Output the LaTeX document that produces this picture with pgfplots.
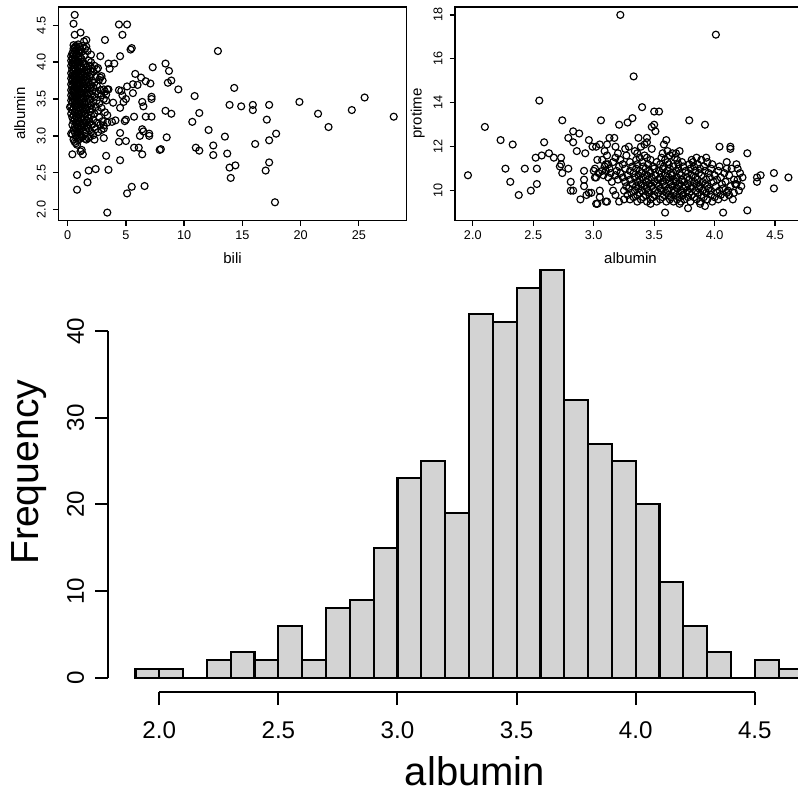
\documentclass[border=0pt]{standalone}
\usepackage{pgfplots}
\pgfplotsset{compat=1.18}
\usepackage{fontspec}
\setmainfont{Liberation Sans}
\definecolor{histgray}{RGB}{211,211,211}

\pgfplotsset{
  rpanel/.style={
    scale only axis, anchor=south west,
    width=209pt, height=128.1pt,
    tick align=outside, xtick pos=lower, ytick pos=left,
    major tick length=3.3pt,
    axis line style={line width=0.8pt},
    tick style={line width=0.8pt, black},
    tick label style={font=\fontsize{7.6}{9}\selectfont},
    xticklabel style={anchor=base},
    yticklabel style={rotate=90, anchor=base},
    xticklabel shift=8pt,
    yticklabel shift=4.3pt,
    /pgf/number format/assume math mode=true,
  },
  rpts/.style={only marks, mark=o, mark size=2.1pt, mark options={line width=0.7pt}, black},
}

\begin{document}
\begin{tikzpicture}
\useasboundingbox (0,0) rectangle (478.8pt,476.4pt);

% top left: bili vs albumin
\begin{axis}[rpanel, at={(34.98pt,344.1pt)},
  xmin=-0.808, xmax=29.108, ymin=1.853, ymax=4.747,
  xtick={0,5,10,15,20,25},
  ytick={2,2.5,3,3.5,4,4.5}, yticklabels={2.0,2.5,3.0,3.5,4.0,4.5}]
\addplot[rpts] coordinates {
(0.3,3.40)(0.3,3.55)(0.3,3.62)(0.3,3.70)(0.3,3.78)(0.3,3.85)(0.3,3.95)(0.3,4.02)(0.3,4.08)(0.3,3.48)(0.3,3.30)
(0.4,3.02)(0.4,3.15)(0.4,3.35)(0.4,3.45)(0.4,3.52)(0.4,3.60)(0.4,3.68)(0.4,3.75)(0.4,3.82)(0.4,3.90)(0.4,3.98)(0.4,4.05)(0.4,4.12)(0.4,3.25)
(0.5,2.95)(0.5,3.08)(0.5,3.20)(0.5,3.28)(0.5,3.38)(0.5,3.50)(0.5,3.58)(0.5,3.64)(0.5,3.72)(0.5,3.80)(0.5,3.87)(0.5,3.93)(0.5,4.00)(0.5,4.10)(0.5,4.18)(0.5,4.23)
(0.6,2.92)(0.6,3.05)(0.6,3.12)(0.6,3.22)(0.6,3.32)(0.6,3.42)(0.6,3.48)(0.6,3.55)(0.6,3.61)(0.6,3.67)(0.6,3.74)(0.6,3.79)(0.6,3.84)(0.6,3.91)(0.6,3.97)(0.6,4.04)(0.6,4.14)(0.6,4.20)
(0.7,2.90)(0.7,3.00)(0.7,3.10)(0.7,3.18)(0.7,3.26)(0.7,3.36)(0.7,3.44)(0.7,3.53)(0.7,3.59)(0.7,3.65)(0.7,3.70)(0.7,3.77)(0.7,3.83)(0.7,3.89)(0.7,3.96)(0.7,4.03)(0.7,4.09)(0.7,4.16)(0.7,4.22)
(0.8,2.88)(0.8,2.98)(0.8,3.07)(0.8,3.16)(0.8,3.24)(0.8,3.33)(0.8,3.41)(0.8,3.50)(0.8,3.57)(0.8,3.63)(0.8,3.69)(0.8,3.76)(0.8,3.86)(0.8,3.94)(0.8,4.01)(0.8,4.11)(0.8,4.19)
(0.9,2.94)(0.9,3.04)(0.9,3.13)(0.9,3.21)(0.9,3.30)(0.9,3.39)(0.9,3.47)(0.9,3.54)(0.9,3.62)(0.9,3.71)(0.9,3.80)(0.9,3.88)(0.9,3.99)(0.9,4.07)(0.9,4.15)(0.9,4.24)
(1.0,2.96)(1.0,3.09)(1.0,3.19)(1.0,3.29)(1.0,3.37)(1.0,3.46)(1.0,3.56)(1.0,3.66)(1.0,3.73)(1.0,3.81)(1.0,3.92)(1.0,4.00)(1.0,4.12)(1.0,4.21)
(1.1,3.02)(1.1,3.14)(1.1,3.25)(1.1,3.35)(1.1,3.43)(1.1,3.52)(1.1,3.60)(1.1,3.68)(1.1,3.78)(1.1,3.85)(1.1,3.95)(1.1,4.06)(1.1,4.17)
(1.2,2.99)(1.2,3.11)(1.2,3.23)(1.2,3.31)(1.2,3.40)(1.2,3.49)(1.2,3.58)(1.2,3.64)(1.2,3.75)(1.2,3.84)(1.2,3.93)(1.2,4.04)(1.2,4.14)
(1.3,3.06)(1.3,3.17)(1.3,3.27)(1.3,3.38)(1.3,3.51)(1.3,3.62)(1.3,3.71)(1.3,3.82)(1.3,3.90)(1.3,4.01)(1.3,4.22)
(1.4,3.12)(1.4,3.22)(1.4,3.34)(1.4,3.45)(1.4,3.57)(1.4,3.67)(1.4,3.79)(1.4,3.87)(1.4,3.98)(1.4,4.09)(1.4,4.28)
(1.5,2.96)(1.5,3.03)(1.5,3.18)(1.5,3.29)(1.5,3.42)(1.5,3.53)(1.5,3.63)(1.5,3.74)(1.5,3.85)(1.5,3.96)(1.5,4.18)
(1.6,3.08)(1.6,3.21)(1.6,3.36)(1.6,3.47)(1.6,3.59)(1.6,3.70)(1.6,3.81)(1.6,3.93)(1.6,4.21)
(1.7,3.14)(1.7,3.26)(1.7,3.39)(1.7,3.55)(1.7,3.66)(1.7,3.77)(1.7,3.90)(1.7,4.15)
(1.8,2.97)(1.8,3.10)(1.8,3.24)(1.8,3.44)(1.8,3.58)(1.8,3.72)(1.8,3.86)(1.8,4.02)
(1.9,3.19)(1.9,3.33)(1.9,3.50)(1.9,3.64)(1.9,3.80)(1.9,3.95)
(2.0,3.05)(2.0,3.28)(2.0,3.41)(2.0,3.56)(2.0,3.69)(2.0,3.83)(2.0,4.00)
(2.1,3.15)(2.1,3.36)(2.1,3.61)(2.1,3.75)(2.1,3.91)
(2.2,3.01)(2.2,3.22)(2.2,3.46)(2.2,3.66)(2.2,3.87)
(2.3,3.12)(2.3,3.30)(2.3,3.53)(2.3,3.72)(2.3,3.95)
(2.4,3.09)(2.4,3.39)(2.4,3.60)(2.4,3.80)
(2.5,3.18)(2.5,3.48)(2.5,3.68)(2.5,3.90)
(2.6,3.05)(2.6,3.34)(2.6,3.57)
(2.7,3.25)(2.7,3.44)(2.7,3.76)
(2.8,3.15)(2.8,3.62)(2.8,3.79)
(2.9,3.38)(2.9,3.55)
(3.0,3.20)(3.0,3.75)
(3.1,3.10)(3.1,3.50)
(3.2,3.32)(3.2,3.60)
(12.9,4.15)(28.0,3.26)(24.4,3.35)(25.5,3.52)(22.4,3.12)(21.5,3.30)(19.9,3.46)
(17.9,3.03)(17.8,2.10)(17.3,3.42)(17.3,2.94)(17.3,2.64)(17.1,3.22)(17.0,2.53)
(16.1,2.89)(15.9,3.42)(15.9,3.35)(14.9,3.40)(14.3,3.65)(14.4,2.60)(13.9,3.42)
(13.9,2.57)(14.0,2.43)(13.7,2.76)(13.5,2.99)(12.5,2.87)(12.5,2.74)(12.1,3.08)
(11.3,3.31)(11.3,2.80)(11.0,2.84)(10.9,3.54)(10.7,3.19)(9.5,3.63)(8.9,3.30)
(8.9,3.75)(8.7,3.88)(8.6,3.72)(8.4,3.98)(8.4,3.34)(8.5,2.98)(8.0,2.82)(7.9,2.81)
(7.3,3.93)(7.2,3.50)(7.2,3.53)(7.2,3.26)(7.0,3.03)(7.0,3.00)(7.1,3.71)(6.7,3.74)
(6.7,3.26)(6.5,3.40)(6.4,3.46)(6.3,3.79)(6.4,3.09)(6.5,3.06)(6.4,2.75)(6.2,3.00)
(6.6,2.32)(6.1,2.84)(6.0,3.69)(5.8,3.84)(5.6,3.70)(5.6,3.58)(5.7,2.84)(5.7,3.26)
(5.4,4.17)(5.5,4.19)(5.5,2.31)(5.1,2.22)(5.0,2.93)(5.0,3.22)(4.9,3.20)(5.1,3.67)
(5.0,3.50)(4.8,3.46)(4.7,3.55)(4.6,3.61)(4.4,3.62)(4.7,4.37)(5.1,4.51)(4.4,4.51)
(4.5,4.08)(4.4,2.92)(4.5,3.04)(4.5,2.67)(4.5,3.38)(4.0,3.98)(3.9,3.45)(4.1,3.21)
(3.8,3.19)(3.6,3.91)(3.5,3.98)(3.5,2.54)(3.4,1.96)(3.3,2.73)(3.2,4.30)(3.1,2.97)
(2.4,2.55)(1.8,2.53)(1.7,2.37)(0.8,2.47)(0.8,2.27)(0.4,2.75)(0.6,4.64)(0.5,4.52)
(0.6,4.37)(1.1,4.40)(1.6,4.30)(2.0,4.10)(2.8,4.08)(2.6,3.92)(2.9,3.81)(3.3,3.56)
(3.1,3.63)(3.4,3.63)(3.5,3.63)(3.3,3.48)(3.4,3.28)(3.4,3.18)(3.1,3.14)(2.9,3.08)
(2.3,2.95)(1.9,2.99)(1.6,2.95)(1.2,2.98)(1.2,2.81)(1.3,2.75)(1.1,2.79)(0.3,3.03)(0.2,3.39)
};
\end{axis}

% top right: albumin vs protime
\begin{axis}[rpanel, at={(273pt,344.1pt)}, width=210pt,
  xmin=1.853, xmax=4.747, ymin=8.64, ymax=18.36,
  xtick={2,2.5,3,3.5,4,4.5}, xticklabels={2.0,2.5,3.0,3.5,4.0,4.5},
  ytick={10,12,14,16,18}]
\addplot[rpts] coordinates {
(3.36,9.5)(3.44,9.5)(3.52,9.5)(3.60,9.5)(3.66,9.5)(3.72,9.5)(3.80,9.5)(3.88,9.5)(3.98,9.5)
(3.30,9.6)(3.39,9.6)(3.47,9.6)(3.55,9.6)(3.63,9.6)(3.69,9.6)(3.75,9.6)(3.85,9.6)(3.94,9.6)(4.03,9.6)
(3.33,9.7)(3.41,9.7)(3.49,9.7)(3.57,9.7)(3.64,9.7)(3.71,9.7)(3.78,9.7)(3.83,9.7)(3.91,9.7)(4.00,9.7)(4.08,9.7)
(3.28,9.8)(3.36,9.8)(3.43,9.8)(3.50,9.8)(3.58,9.8)(3.62,9.8)(3.68,9.8)(3.74,9.8)(3.81,9.8)(3.89,9.8)(3.97,9.8)(4.05,9.8)(4.12,9.8)
(3.31,9.9)(3.38,9.9)(3.46,9.9)(3.53,9.9)(3.60,9.9)(3.66,9.9)(3.73,9.9)(3.79,9.9)(3.86,9.9)(3.93,9.9)(4.02,9.9)(4.10,9.9)
(3.25,10.0)(3.34,10.0)(3.40,10.0)(3.45,10.0)(3.51,10.0)(3.56,10.0)(3.61,10.0)(3.67,10.0)(3.72,10.0)(3.77,10.0)(3.84,10.0)(3.90,10.0)(3.96,10.0)(4.04,10.0)(4.11,10.0)(4.20,10.0)
(3.29,10.1)(3.37,10.1)(3.44,10.1)(3.49,10.1)(3.55,10.1)(3.62,10.1)(3.69,10.1)(3.74,10.1)(3.80,10.1)(3.87,10.1)(3.95,10.1)(4.07,10.1)
(3.27,10.2)(3.35,10.2)(3.42,10.2)(3.48,10.2)(3.54,10.2)(3.59,10.2)(3.65,10.2)(3.70,10.2)(3.76,10.2)(3.82,10.2)(3.88,10.2)(3.94,10.2)(4.01,10.2)(4.13,10.2)(4.22,10.2)
(3.32,10.3)(3.39,10.3)(3.46,10.3)(3.52,10.3)(3.58,10.3)(3.64,10.3)(3.71,10.3)(3.78,10.3)(3.85,10.3)(3.92,10.3)(4.06,10.3)(4.18,10.3)
(3.15,10.4)(3.26,10.4)(3.36,10.4)(3.43,10.4)(3.50,10.4)(3.57,10.4)(3.63,10.4)(3.68,10.4)(3.75,10.4)(3.83,10.4)(3.90,10.4)(3.99,10.4)(4.09,10.4)
(3.20,10.5)(3.30,10.5)(3.38,10.5)(3.45,10.5)(3.53,10.5)(3.60,10.5)(3.66,10.5)(3.73,10.5)(3.79,10.5)(3.86,10.5)(3.93,10.5)(4.02,10.5)(4.16,10.5)
(3.02,10.6)(3.12,10.6)(3.24,10.6)(3.34,10.6)(3.41,10.6)(3.48,10.6)(3.55,10.6)(3.62,10.6)(3.69,10.6)(3.77,10.6)(3.84,10.6)(3.96,10.6)(4.05,10.6)(4.23,10.6)
(3.08,10.7)(3.18,10.7)(3.28,10.7)(3.37,10.7)(3.44,10.7)(3.51,10.7)(3.59,10.7)(3.65,10.7)(3.72,10.7)(3.81,10.7)(3.89,10.7)(4.00,10.7)(4.12,10.7)
(3.04,10.8)(3.14,10.8)(3.22,10.8)(3.33,10.8)(3.40,10.8)(3.47,10.8)(3.56,10.8)(3.64,10.8)(3.71,10.8)(3.78,10.8)(3.87,10.8)(3.95,10.8)(4.08,10.8)
(3.10,10.9)(3.19,10.9)(3.30,10.9)(3.38,10.9)(3.46,10.9)(3.54,10.9)(3.61,10.9)(3.68,10.9)(3.76,10.9)(3.84,10.9)(3.92,10.9)(4.03,10.9)
(3.01,11.0)(3.13,11.0)(3.26,11.0)(3.35,11.0)(3.43,11.0)(3.50,11.0)(3.57,11.0)(3.63,11.0)(3.70,11.0)(3.80,11.0)(3.88,11.0)(3.97,11.0)(4.10,11.0)
(3.09,11.1)(3.21,11.1)(3.32,11.1)(3.41,11.1)(3.49,11.1)(3.58,11.1)(3.66,11.1)(3.74,11.1)(3.83,11.1)(3.91,11.1)(4.04,11.1)
(3.12,11.2)(3.24,11.2)(3.36,11.2)(3.45,11.2)(3.55,11.2)(3.62,11.2)(3.70,11.2)(3.79,11.2)(3.86,11.2)(3.98,11.2)
(3.16,11.3)(3.30,11.3)(3.40,11.3)(3.52,11.3)(3.61,11.3)(3.73,11.3)(3.82,11.3)(3.94,11.3)
(3.07,11.4)(3.22,11.4)(3.35,11.4)(3.47,11.4)(3.59,11.4)(3.69,11.4)(3.81,11.4)(3.89,11.4)
(3.18,11.5)(3.38,11.5)(3.44,11.5)(3.56,11.5)(3.67,11.5)(3.85,11.5)(3.93,11.5)
(3.11,11.6)(3.27,11.6)(3.42,11.6)(3.63,11.6)
(3.20,11.7)(3.36,11.7)(3.57,11.7)(3.68,11.7)
(3.34,11.8)(3.61,11.8)(3.71,11.8)
(3.26,11.9)(3.48,11.9)(3.39,12.0)(3.44,12.2)(3.60,12.3)
(3.03,9.4)(3.47,9.4)(3.71,9.4)(3.88,9.4)(3.92,9.3)
(1.96,10.7)(2.10,12.9)(2.23,12.3)(2.27,11.0)(2.31,10.4)(2.33,12.1)(2.38,9.8)(2.43,11.0)
(2.48,10.0)(2.52,11.5)(2.53,11.0)(2.53,10.3)(2.55,14.1)(2.57,11.6)(2.59,12.2)(2.63,11.7)
(2.67,11.5)(2.72,11.1)(2.73,11.5)(2.74,13.2)(2.73,11.2)(2.74,10.8)(2.79,11.0)(2.79,12.4)
(2.83,12.7)(2.83,12.2)(2.88,12.6)(2.81,10.0)(2.83,10.0)(2.81,10.4)(2.86,11.8)(2.89,9.6)
(2.92,10.9)(2.93,11.7)(2.92,10.5)(2.92,10.2)(2.94,9.8)(2.96,12.3)(2.99,12.0)(3.02,12.0)
(2.98,9.9)(2.96,9.9)(3.01,10.6)(3.00,10.9)(3.05,12.1)(3.03,11.4)(3.06,13.2)(3.02,9.4)
(3.05,9.7)(3.05,10.0)(3.10,9.5)(3.11,9.5)(3.07,10.9)(3.10,11.2)(3.09,11.8)(3.11,12.1)
(3.13,12.4)(3.17,12.4)(3.18,12.0)(3.16,10.0)(3.18,9.8)(3.21,9.5)(3.21,13.0)(3.22,18.0)
(3.25,9.6)(3.28,13.1)(3.32,13.3)(3.33,15.2)(3.29,12.0)(3.37,12.4)(3.40,13.8)(3.44,12.4)
(3.42,12.1)(3.48,12.9)(3.50,13.0)(3.51,12.7)(3.50,13.6)(3.54,13.6)(3.58,12.1)(3.65,11.7)
(3.79,13.2)(3.92,13.0)(4.01,17.1)(4.04,12.0)(4.13,12.0)(4.13,11.9)(4.27,11.7)(4.27,9.1)
(4.07,9.0)(3.59,9.0)(3.78,9.2)(4.35,10.6)(4.35,10.4)(4.38,10.7)(4.49,10.8)(4.49,10.1)
(4.61,10.6)(4.19,11.0)(4.21,10.8)(4.15,9.6)(4.16,9.9)(4.17,10.3)(4.18,11.2)(4.19,10.5)
(4.14,11.0)(4.10,11.3)
};
\end{axis}

% bottom: histogram of albumin
\begin{axis}[scale only axis, anchor=south west, at={(64.98pt,61.2pt)},
  width=432.5pt, height=262.8pt,
  xmin=1.786, xmax=4.812, ymin=-1.65, ymax=48.89,
  clip=false, axis line style={draw=none},
  tick align=outside, xtick pos=lower, ytick pos=left,
  major tick length=7.8pt, tick style={line width=1.2pt, black},
  xtick={2,2.5,3,3.5,4,4.5}, xticklabels={2.0,2.5,3.0,3.5,4.0,4.5},
  ytick={0,10,20,30,40},
  tick label style={font=\fontsize{14.5}{17}\selectfont},
  xticklabel style={anchor=base}, yticklabel style={rotate=90, anchor=base},
  xticklabel shift=20.2pt, yticklabel shift=6.8pt,
  /pgf/number format/assume math mode=true]
\addplot[ybar interval, fill=histgray, draw=black, line width=1.3pt] coordinates {
(1.9,1)(2.0,1)(2.1,0)(2.2,2)(2.3,3)(2.4,2)(2.5,6)(2.6,2)(2.7,8)(2.8,9)
(2.9,15)(3.0,23)(3.1,25)(3.2,19)(3.3,42)(3.4,41)(3.5,45)(3.6,47)(3.7,32)(3.8,27)
(3.9,25)(4.0,20)(4.1,11)(4.2,6)(4.3,3)(4.4,0)(4.5,2)(4.6,1)(4.7,1)};
\draw[line width=1.2pt] (axis cs:2,-1.65) -- (axis cs:4.5,-1.65);
\draw[line width=1.2pt] (axis cs:1.786,0) -- (axis cs:1.786,40);
\end{axis}

% axis titles
\node[font=\fontsize{9}{11}\selectfont, anchor=base] at (139.5pt,318.5pt) {bili};
\node[font=\fontsize{9}{11}\selectfont, anchor=base, rotate=90] at (15pt,408.2pt) {albumin};
\node[font=\fontsize{9}{11}\selectfont, anchor=base] at (378.3pt,318.5pt) {albumin};
\node[font=\fontsize{9}{11}\selectfont, anchor=base, rotate=90] at (253pt,408.2pt) {protime};
\node[font=\fontsize{23.5}{28}\selectfont, anchor=base, rotate=90] at (23pt,193pt) {Frequency};
\node[font=\fontsize{24}{28}\selectfont, anchor=base] at (285pt,5.4pt) {albumin};
\end{tikzpicture}
\end{document}
